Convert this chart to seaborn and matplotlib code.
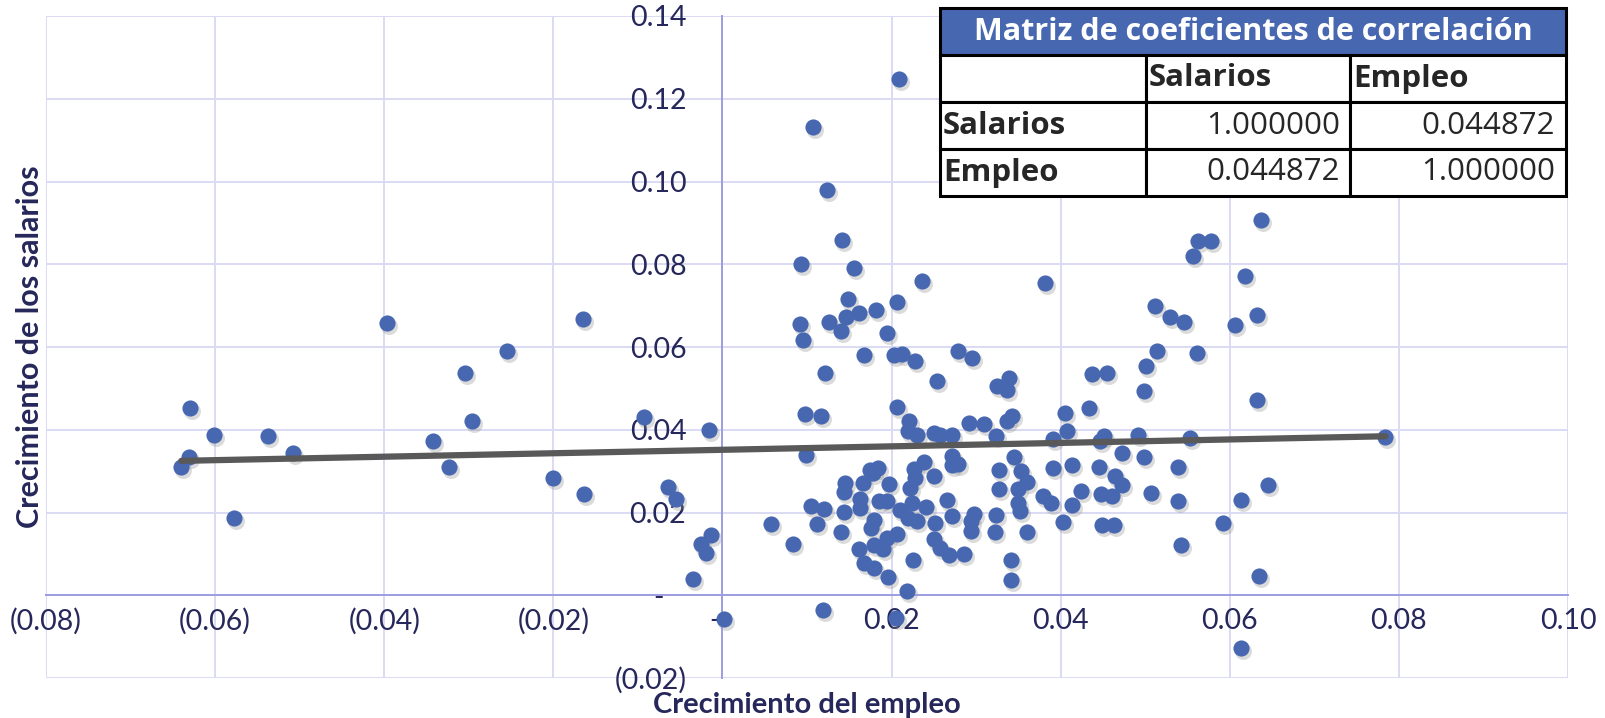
import matplotlib
matplotlib.use("Agg")
import matplotlib.pyplot as plt
import matplotlib.transforms as mtransforms
from matplotlib.table import Table
import seaborn as sns
import numpy as np

# employment growth (x) and wage growth (y)
empleo = [
    0.0209, 0.0107, 0.0124, 0.0141, 0.0093, 0.0155, 0.0236, 0.0148, 0.0206, 0.0182,
    0.0161, 0.0146, 0.0126, 0.0092, 0.0140, 0.0095, 0.0195,
    0.0167, 0.0203, 0.0212, 0.0228, 0.0279, 0.0295, 0.0121, 0.0254, 0.0325, 0.0098,
    0.0116, 0.0207, 0.0221, 0.0220, 0.0230, 0.0250, 0.0257, 0.0271, 0.0292, 0.0309,
    0.0324, 0.0099, 0.0271, 0.0271, 0.0278, 0.0238, 0.0226, 0.0228, 0.0250, 0.0222,
    0.0197, 0.0174, 0.0184, 0.0178, 0.0166, 0.0145, 0.0144, 0.0163, 0.0163, 0.0185,
    0.0195, 0.0224, 0.0210, 0.0241, 0.0265, 0.0105, 0.0120, 0.0144, 0.0219, 0.0230,
    0.0251, 0.0271, 0.0294, 0.0297, 0.0294, 0.0323, 0.0322, 0.0058, 0.0112, 0.0140,
    0.0179, 0.0176, 0.0195, 0.0206, 0.0179, 0.0190, 0.0161, 0.0250, 0.0257, 0.0268,
    0.0286, 0.0225, 0.0084, 0.0167, 0.0179, 0.0196, 0.0218, 0.0119, 0.0205, 0.0327,
    0.0327,
    0.0637, 0.0563, 0.0578, 0.0557, 0.0381, 0.0618, 0.0512, 0.0529, 0.0546, 0.0606,
    0.0632, 0.0514, 0.0561, 0.0501, 0.0437, 0.0455, 0.0498, 0.0632, 0.0339, 0.0336,
    0.0434, 0.0405, 0.0407, 0.0343, 0.0337, 0.0391, 0.0451, 0.0492, 0.0553, 0.0447,
    0.0473, 0.0498, 0.0345,
    0.0539, 0.0445, 0.0413, 0.0391, 0.0353, 0.0360, 0.0349, 0.0349, 0.0352, 0.0360,
    0.0379, 0.0388, 0.0403, 0.0413, 0.0424, 0.0448, 0.0461, 0.0464, 0.0472, 0.0507,
    0.0539, 0.0449, 0.0463, 0.0542, 0.0592, 0.0613, 0.0635, 0.0341, 0.0341, 0.0613,
    0.0645, 0.0784,
    -0.0093, -0.0016, -0.0064, -0.0055, -0.0014, -0.0025, -0.0020, -0.0035, 0.0002,
    -0.0640, -0.0631, -0.0630, -0.0601, -0.0578, -0.0537, -0.0508, -0.0397, -0.0342,
    -0.0323, -0.0305, -0.0296, -0.0255, -0.0200, -0.0165, -0.0164,
]
salarios = [
    0.1248, 0.1131, 0.0979, 0.0859, 0.0800, 0.0791, 0.0760, 0.0715, 0.0709, 0.0690,
    0.0683, 0.0673, 0.0660, 0.0655, 0.0639, 0.0617, 0.0633,
    0.0581, 0.0580, 0.0582, 0.0566, 0.0590, 0.0574, 0.0538, 0.0518, 0.0506, 0.0439,
    0.0434, 0.0455, 0.0421, 0.0398, 0.0387, 0.0393, 0.0387, 0.0387, 0.0417, 0.0415,
    0.0385, 0.0340, 0.0336, 0.0316, 0.0318, 0.0323, 0.0304, 0.0284, 0.0288, 0.0260,
    0.0268, 0.0302, 0.0308, 0.0296, 0.0272, 0.0272, 0.0250, 0.0232, 0.0211, 0.0228,
    0.0229, 0.0223, 0.0207, 0.0214, 0.0231, 0.0215, 0.0209, 0.0202, 0.0187, 0.0179,
    0.0175, 0.0191, 0.0179, 0.0196, 0.0155, 0.0194, 0.0154, 0.0171, 0.0171, 0.0154,
    0.0183, 0.0163, 0.0139, 0.0147, 0.0121, 0.0111, 0.0111, 0.0135, 0.0115, 0.0098,
    0.0100, 0.0086, 0.0125, 0.0078, 0.0066, 0.0044, 0.0010, -0.0035, -0.0056, 0.0302,
    0.0258,
    0.0907, 0.0855, 0.0857, 0.0821, 0.0755, 0.0772, 0.0698, 0.0673, 0.0660, 0.0654,
    0.0678, 0.0591, 0.0585, 0.0553, 0.0534, 0.0538, 0.0494, 0.0473, 0.0526, 0.0497,
    0.0453, 0.0441, 0.0398, 0.0434, 0.0420, 0.0377, 0.0384, 0.0388, 0.0380, 0.0372,
    0.0343, 0.0335, 0.0335,
    0.0309, 0.0311, 0.0315, 0.0308, 0.0300, 0.0273, 0.0257, 0.0224, 0.0204, 0.0154,
    0.0240, 0.0224, 0.0176, 0.0218, 0.0253, 0.0245, 0.0241, 0.0289, 0.0267, 0.0247,
    0.0228, 0.0170, 0.0170, 0.0121, 0.0174, 0.0231, 0.0046, 0.0084, 0.0036, -0.0128,
    0.0267, 0.0383,
    0.0432, 0.0400, 0.0262, 0.0232, 0.0145, 0.0123, 0.0103, 0.0040, -0.0057,
    0.0309, 0.0333, 0.0453, 0.0387, 0.0187, 0.0384, 0.0344, 0.0658, 0.0372,
    0.0311, 0.0537, 0.0422, 0.0590, 0.0283, 0.0668, 0.0244,
]

x_ticks = [-0.08, -0.06, -0.04, -0.02, 0.0, 0.02, 0.04, 0.06, 0.08, 0.10]
x_tick_labels = ["(0.08)", "(0.06)", "(0.04)", "(0.02)", "-  ", "0.02", "0.04", "0.06", "0.08", "0.10"]
y_ticks = [-0.02, 0.0, 0.02, 0.04, 0.06, 0.08, 0.10, 0.12, 0.14]
y_tick_labels = ["(0.02)", "-   ", "0.02", "0.04", "0.06", "0.08", "0.10", "0.12", "0.14"]

tabla_titulo = "Matriz de coeficientes de correlación"
tabla_cols = ["", "Salarios", "Empleo"]
tabla_filas = [
    ["Salarios", "1.000000", "0.044872"],
    ["Empleo", "0.044872", "1.000000"],
]

sns.set_style("white")
plt.rcParams["font.family"] = ["Lato", "DejaVu Sans"]

navy = "#26275a"
blue = "#4767b0"
grid_c = "#dadaf3"
axis_c = "#9d9de0"

fig = plt.figure(figsize=(16.06, 7.18), dpi=100)
ax = fig.add_axes([46 / 1606, 1 - 678 / 718, 1522 / 1606, 662 / 718])

# soft shadow under the markers
shadow = mtransforms.offset_copy(ax.transData, fig=fig, x=2, y=-3, units="dots")
ax.scatter(empleo, salarios, s=150, color="#8a8a8a", alpha=0.3, linewidth=0,
           transform=shadow, zorder=2)
sns.scatterplot(x=empleo, y=salarios, ax=ax, s=135, color=blue, linewidth=0, zorder=3)
sns.regplot(x=np.array(empleo), y=np.array(salarios), ax=ax, scatter=False, ci=None,
            truncate=True, line_kws=dict(color="#595959", lw=4.5, zorder=4,
                                         solid_capstyle="round"))

ax.set_xlim(-0.08, 0.10)
ax.set_ylim(-0.02, 0.14)
ax.set_xticks(x_ticks)
ax.set_xticklabels(x_tick_labels)
ax.set_yticks(y_ticks)
ax.set_yticklabels(y_tick_labels)
ax.grid(True, color=grid_c, lw=1.4, zorder=0)
ax.set_axisbelow(True)

for s in ["top", "right"]:
    ax.spines[s].set_visible(False)
ax.spines["left"].set_position(("data", 0))
ax.spines["bottom"].set_position(("data", 0))
ax.spines["left"].set_color(axis_c)
ax.spines["bottom"].set_color(axis_c)
ax.spines["left"].set_linewidth(1.4)
ax.spines["bottom"].set_linewidth(1.4)

ax.tick_params(axis="x", length=0, pad=9, labelsize=20.5, labelcolor=navy)
ax.tick_params(axis="y", length=0, pad=26, labelsize=20.5, labelcolor=navy)

ax.set_xlabel("Crecimiento del empleo", fontsize=21, fontweight="bold", color=navy)
ax.set_ylabel("Crecimiento de los salarios", fontsize=22, fontweight="bold", color=navy)
ax.xaxis.label.set_va("center")
ax.yaxis.label.set_va("center")
ax.xaxis.set_label_coords(0.5, (678 - 705) / 662)
ax.yaxis.set_label_coords((30 - 46) / 1522, 0.5)

# correlation table
tax = fig.add_axes([940 / 1606, 1 - 196 / 718, 626 / 1606, 188 / 718])
tax.axis("off")

head = Table(tax, bbox=[0, 0.75, 1, 0.25])
hc = head.add_cell(0, 0, width=1, height=1, text=tabla_titulo, loc="center",
                   facecolor=blue, edgecolor="black")
hc.set_linewidth(2.2)
hc.get_text().set_color("white")
hc.get_text().set_fontweight("bold")
hc.get_text().set_fontsize(22)
hc.get_text().set_fontfamily(["Open Sans", "DejaVu Sans"])
head.auto_set_font_size(False)
tax.add_table(head)

tbl = Table(tax, bbox=[0, 0, 1, 0.75])
col_w = [206, 204, 216]
rows = [[(tabla_cols[0], "left"), (tabla_cols[1], "left"), (tabla_cols[2], "left")]]
for fila in tabla_filas:
    rows.append([(fila[0], "left"), (fila[1], "right"), (fila[2], "right")])
for r, row in enumerate(rows):
    for c, (txt, loc) in enumerate(row):
        cell = tbl.add_cell(r, c, width=col_w[c], height=1, text=txt, loc=loc,
                            facecolor="white", edgecolor="black")
        cell.set_linewidth(2.2)
        cell.PAD = 0.015 if loc == "left" else 0.05
        t = cell.get_text()
        t.set_fontsize(22.5)
        t.set_fontfamily(["Open Sans", "DejaVu Sans"])
        if r == 0 or c == 0:
            t.set_fontweight("bold")
tbl.auto_set_font_size(False)
tax.add_table(tbl)

plt.savefig("out.png", dpi=100)
plt.close()
